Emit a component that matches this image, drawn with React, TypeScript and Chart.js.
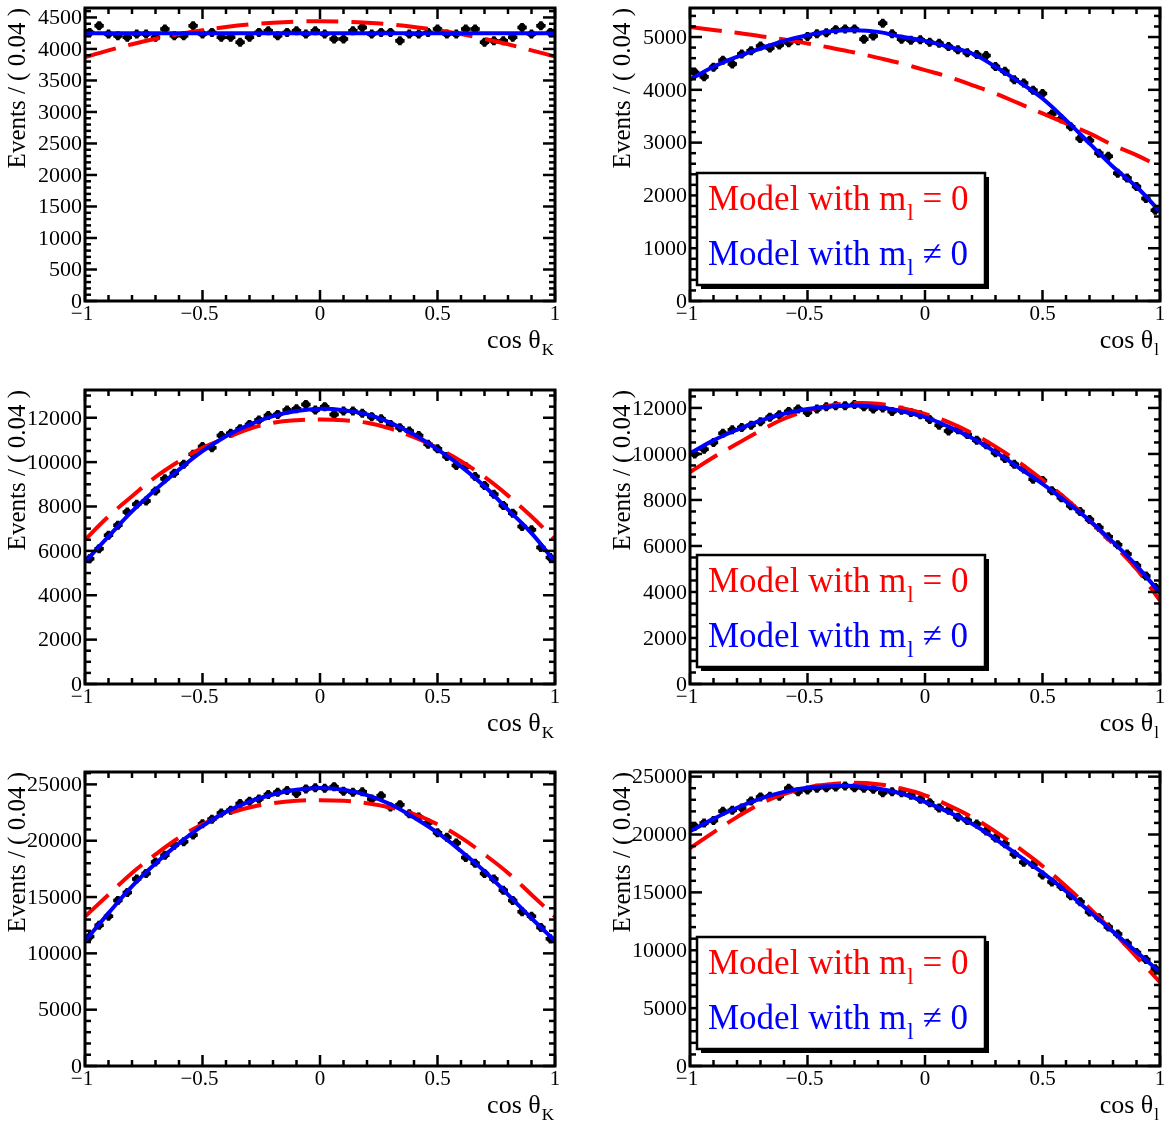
import React, { useEffect, useRef } from "react";
import { Chart, registerables } from "chart.js";

Chart.register(...registerables);

const SERIF = "'Liberation Serif', 'Times New Roman', Times, serif";

// ---------- shared axes ----------
const BIN_CENTERS = [
  -0.98, -0.94, -0.9, -0.86, -0.82, -0.78, -0.74, -0.7, -0.66, -0.62,
  -0.58, -0.54, -0.5, -0.46, -0.42, -0.38, -0.34, -0.3, -0.26, -0.22,
  -0.18, -0.14, -0.1, -0.06, -0.02, 0.02, 0.06, 0.1, 0.14, 0.18,
  0.22, 0.26, 0.3, 0.34, 0.38, 0.42, 0.46, 0.5, 0.54, 0.58,
  0.62, 0.66, 0.7, 0.74, 0.78, 0.82, 0.86, 0.9, 0.94, 0.98,
];
const HALF_BIN = 0.02;
const CURVE_X = [
  -1, -0.9, -0.8, -0.7, -0.6, -0.5, -0.4, -0.3, -0.2, -0.1, 0,
  0.1, 0.2, 0.3, 0.4, 0.5, 0.6, 0.7, 0.8, 0.9, 1,
];
const X_TICKS = [-1, -0.5, 0, 0.5, 1];
const X_TICK_LABELS = ["\u22121", "\u22120.5", "0", "0.5", "1"];

// ---------- panel 1 : cos thetaK (top) ----------
const P1_POINTS = [
  4260, 4370, 4237, 4210, 4184, 4237, 4237, 4184, 4316, 4210,
  4210, 4368, 4237, 4263, 4184, 4184, 4105, 4184, 4263, 4290,
  4210, 4263, 4290, 4237, 4290, 4237, 4158, 4158, 4290, 4342,
  4237, 4263, 4263, 4130, 4237, 4237, 4263, 4316, 4237, 4237,
  4316, 4316, 4105, 4130, 4130, 4184, 4342, 4237, 4368, 4263,
];
const P1_RED = [3870, 3978, 4075, 4161, 4235, 4298, 4349, 4389, 4417, 4434, 4440, 4434, 4417, 4389, 4349, 4298, 4235, 4161, 4075, 3978, 3880];
const P1_BLUE = [4250, 4250, 4250, 4250, 4250, 4250, 4250, 4250, 4250, 4250, 4250, 4250, 4250, 4250, 4250, 4250, 4250, 4250, 4250, 4250, 4250];
const P1_YTICKS = [0, 500, 1000, 1500, 2000, 2500, 3000, 3500, 4000, 4500];

// ---------- panel 2 : cos thetal (top) ----------
const P2_POINTS = [
  4330, 4250, 4430, 4560, 4490, 4680, 4740, 4830, 4790, 4850,
  4890, 4930, 5010, 5060, 5080, 5140, 5150, 5150, 4960, 5020,
  5260, 5060, 4960, 4940, 4950, 4900, 4880, 4820, 4760, 4700,
  4670, 4650, 4440, 4350, 4190, 4130, 3990, 3930, 3540, 3450,
  3300, 3080, 3040, 2800, 2740, 2420, 2330, 2170, 1940, 1720,
];
const P2_RED = [5190, 5135, 5080, 5016, 4953, 4878, 4796, 4707, 4606, 4499, 4373, 4247, 4089, 3931, 3742, 3553, 3363, 3174, 2953, 2764, 2543];
const P2_BLUE = [4196, 4436, 4625, 4783, 4928, 5035, 5111, 5130, 5098, 5004, 4928, 4815, 4688, 4436, 4152, 3836, 3426, 2985, 2543, 2164, 1691];
const P2_YTICKS = [0, 1000, 2000, 3000, 4000, 5000];

// ---------- panel 3 : cos thetaK (middle) ----------
const P3_POINTS = [
  5650, 6100, 6700, 7150, 7750, 8100, 8250, 8700, 9250, 9500,
  9900, 10350, 10700, 10650, 11200, 11300, 11500, 11700, 11900, 12100,
  12150, 12350, 12400, 12600, 12350, 12500, 12150, 12300, 12300, 12200,
  12050, 11950, 11700, 11550, 11400, 11200, 10800, 10600, 10250, 9850,
  9800, 9350, 8950, 8550, 8050, 7700, 7100, 6950, 6150, 5700,
];
const P3_RED = [6500, 7550, 8460, 9330, 10040, 10640, 11090, 11500, 11770, 11890, 11920, 11890, 11770, 11510, 11120, 10640, 10040, 9330, 8490, 7550, 6500];
const P3_BLUE = [5500, 6650, 7780, 8760, 9660, 10490, 11170, 11690, 12070, 12300, 12400, 12340, 12150, 11770, 11240, 10570, 9810, 8910, 7860, 6800, 5500];
const P3_YTICKS = [0, 2000, 4000, 6000, 8000, 10000, 12000];

// ---------- panel 4 : cos thetal (middle) ----------
const P4_POINTS = [
  10000, 10200, 10500, 10900, 11050, 11150, 11250, 11400, 11600, 11700,
  11850, 11950, 11800, 11950, 12050, 12100, 12100, 12150, 12050, 11950,
  12000, 11850, 11900, 11800, 11700, 11500, 11250, 11000, 11050, 10850,
  10600, 10400, 10050, 9800, 9550, 9350, 8900, 8850, 8400, 8100,
  7750, 7500, 7150, 6800, 6400, 6050, 5650, 5150, 4700, 4200,
];
const P4_RED = [9210, 9860, 10440, 11020, 11530, 11890, 12110, 12210, 12180, 12000, 11740, 11380, 10900, 10320, 9640, 8870, 8050, 7110, 6090, 5000, 3630];
const P4_BLUE = [10030, 10590, 11050, 11450, 11745, 11950, 12065, 12110, 12040, 11860, 11600, 11190, 10690, 10080, 9400, 8700, 7930, 7110, 6170, 5150, 3950];
const P4_YTICKS = [0, 2000, 4000, 6000, 8000, 10000, 12000];

// ---------- panel 5 : cos thetaK (bottom) ----------
const P5_POINTS = [
  11500, 12500, 13300, 14700, 15400, 16600, 17100, 18100, 18700, 19600,
  19900, 20500, 21500, 21900, 22450, 22700, 23300, 23500, 23700, 24100,
  24300, 24450, 24200, 24600, 24700, 24650, 24800, 24400, 24300, 24350,
  23700, 24000, 23000, 23200, 22400, 22100, 21600, 20700, 20300, 19800,
  18500, 18000, 17100, 16600, 15600, 14700, 13700, 13300, 12300, 11300,
];
const P5_RED = [13270, 15210, 17140, 18780, 20270, 21460, 22350, 22950, 23330, 23540, 23600, 23540, 23330, 22950, 22350, 21460, 20270, 18780, 17140, 15210, 13270];
const P5_BLUE = [11100, 13570, 15950, 17970, 19760, 21310, 22560, 23480, 24100, 24520, 24670, 24520, 24050, 23240, 22050, 20710, 19080, 17290, 15210, 13120, 11100];
const P5_YTICKS = [0, 5000, 10000, 15000, 20000, 25000];

// ---------- panel 6 : cos thetal (bottom) ----------
const P6_POINTS = [
  20700, 21000, 21200, 22000, 22100, 22300, 22900, 23250, 23300, 23300,
  24000, 23700, 23850, 24000, 24050, 24100, 24200, 24050, 24000, 23900,
  23600, 23700, 23600, 23400, 23050, 22750, 22300, 22100, 21500, 21200,
  20900, 20300, 19700, 19200, 18300, 17600, 17400, 16500, 15900, 15500,
  14700, 14200, 13300, 12800, 12000, 11400, 10600, 9800, 9200, 8400,
];
const P6_RED = [18820, 20190, 21500, 22660, 23480, 24060, 24350, 24470, 24350, 23970, 23390, 22520, 21500, 20250, 18820, 17280, 15530, 13640, 11610, 9430, 7240];
const P6_BLUE = [20280, 21350, 22310, 23100, 23680, 24030, 24170, 24200, 23970, 23530, 22810, 21930, 20920, 19610, 18150, 16700, 15100, 13350, 11610, 9860, 8120];
const P6_YTICKS = [0, 5000, 10000, 15000, 20000, 25000];

const Y_TITLE = "Events / ( 0.04 )";
const LEGEND_RED = ["Model with m", "l", " = 0"];
const LEGEND_BLUE = ["Model with m", "l", " \u2260 0"];

type Pad = { left: number; right: number; top: number; bottom: number };
type PanelCfg = {
  points: number[];
  red: number[];
  blue: number[];
  yMax: number;
  yTicks: number[];
  yMinor: number;
  sub: string;
  legend: boolean;
  left: number;
  top: number;
  width: number;
  height: number;
  pad: Pad;
};

const COL_L = { left: 0, width: 583, padL: 85, padR: 28 };
const COL_R = { left: 583, width: 584, padL: 107, padR: 7 };
const ROWS = [
  { top: 0, height: 375, padT: 8, padB: 74 },
  { top: 375, height: 375, padT: 15, padB: 66 },
  { top: 750, height: 375, padT: 22, padB: 59 },
];

function mk(
  col: typeof COL_L,
  row: (typeof ROWS)[number],
  points: number[],
  red: number[],
  blue: number[],
  yMax: number,
  yTicks: number[],
  yMinor: number,
  sub: string,
  legend: boolean
): PanelCfg {
  return {
    points, red, blue, yMax, yTicks, yMinor, sub, legend,
    left: col.left, top: row.top, width: col.width, height: row.height,
    pad: { left: col.padL, right: col.padR, top: row.padT, bottom: row.padB },
  };
}

const PANELS: PanelCfg[] = [
  mk(COL_L, ROWS[0], P1_POINTS, P1_RED, P1_BLUE, 4650, P1_YTICKS, 100, "K", false),
  mk(COL_R, ROWS[0], P2_POINTS, P2_RED, P2_BLUE, 5550, P2_YTICKS, 200, "l", true),
  mk(COL_L, ROWS[1], P3_POINTS, P3_RED, P3_BLUE, 13250, P3_YTICKS, 500, "K", false),
  mk(COL_R, ROWS[1], P4_POINTS, P4_RED, P4_BLUE, 12780, P4_YTICKS, 500, "l", true),
  mk(COL_L, ROWS[2], P5_POINTS, P5_RED, P5_BLUE, 26100, P5_YTICKS, 1000, "K", false),
  mk(COL_R, ROWS[2], P6_POINTS, P6_RED, P6_BLUE, 25400, P6_YTICKS, 1000, "l", true),
];

function makeRootPlugin(cfg: PanelCfg) {
  return {
    id: "rootStyle",
    beforeDatasetsDraw(chart: any) {
      const ctx: CanvasRenderingContext2D = chart.ctx;
      const xs = chart.scales.x;
      const ys = chart.scales.y;
      const ca = chart.chartArea;
      ctx.save();
      ctx.beginPath();
      ctx.rect(ca.left, ca.top, ca.right - ca.left, ca.bottom - ca.top);
      ctx.clip();
      ctx.strokeStyle = "#000";
      ctx.lineWidth = 3.5;
      cfg.points.forEach((v, i) => {
        const x = BIN_CENTERS[i];
        const e = Math.sqrt(v);
        const px = xs.getPixelForValue(x);
        const py = ys.getPixelForValue(v);
        const pyLo = Math.max(ys.getPixelForValue(v - e), py + 4.5);
        const pyHi = Math.min(ys.getPixelForValue(v + e), py - 4.5);
        ctx.beginPath();
        ctx.moveTo(xs.getPixelForValue(x - HALF_BIN), py);
        ctx.lineTo(xs.getPixelForValue(x + HALF_BIN), py);
        ctx.moveTo(px, pyLo);
        ctx.lineTo(px, pyHi);
        ctx.stroke();
      });
      ctx.restore();
    },
    afterDraw(chart: any) {
      const ctx: CanvasRenderingContext2D = chart.ctx;
      const xs = chart.scales.x;
      const ys = chart.scales.y;
      const ca = chart.chartArea;
      const line = (x1: number, y1: number, x2: number, y2: number) => {
        ctx.beginPath();
        ctx.moveTo(x1, y1);
        ctx.lineTo(x2, y2);
        ctx.stroke();
      };
      ctx.save();
      ctx.strokeStyle = "#000";
      ctx.fillStyle = "#000";

      // ticks
      ctx.lineWidth = 2.5;
      for (let k = 0; k <= 20; k++) {
        const v = -1 + k * 0.1;
        const px = xs.getPixelForValue(v);
        const len = k % 5 === 0 ? 11 : 6;
        line(px, ca.bottom, px, ca.bottom - len);
        line(px, ca.top, px, ca.top + len);
      }
      const yMajor = cfg.yTicks[1] - cfg.yTicks[0];
      const nMinor = Math.floor(cfg.yMax / cfg.yMinor + 1e-9);
      for (let k = 0; k <= nMinor; k++) {
        const v = k * cfg.yMinor;
        const py = ys.getPixelForValue(v);
        const r = v / yMajor;
        const major = Math.abs(r - Math.round(r)) < 1e-6;
        const len = major ? 12 : 6;
        line(ca.left, py, ca.left + len, py);
        line(ca.right, py, ca.right - len, py);
      }

      // frame
      ctx.lineWidth = 3;
      ctx.strokeRect(ca.left, ca.top, ca.right - ca.left, ca.bottom - ca.top);

      // y tick labels
      ctx.font = `22px ${SERIF}`;
      ctx.textAlign = "right";
      ctx.textBaseline = "middle";
      cfg.yTicks.forEach((v) => {
        ctx.fillText(String(v), ca.left - 3, ys.getPixelForValue(v) + 1);
      });

      // x tick labels
      ctx.font = `21px ${SERIF}`;
      ctx.textAlign = "center";
      ctx.textBaseline = "top";
      X_TICKS.forEach((v, i) => {
        const lbl = X_TICK_LABELS[i];
        let px = xs.getPixelForValue(v);
        if (lbl.startsWith("\u2212")) px -= 3;
        ctx.fillText(lbl, px, ca.bottom + 3);
      });

      // y title
      ctx.save();
      ctx.font = `25px ${SERIF}`;
      ctx.translate(ca.left - 67, ca.top);
      ctx.rotate(-Math.PI / 2);
      ctx.textAlign = "right";
      ctx.textBaseline = "middle";
      ctx.fillText(Y_TITLE, 0, 0);
      ctx.restore();

      // x title
      ctx.textBaseline = "alphabetic";
      ctx.textAlign = "left";
      ctx.font = `17px ${SERIF}`;
      const subW = ctx.measureText(cfg.sub).width;
      ctx.font = `26px ${SERIF}`;
      const mainW = ctx.measureText("cos \u03b8").width;
      const xEnd = ca.right - 1;
      ctx.fillText("cos \u03b8", xEnd - subW - mainW - 1, ca.bottom + 47);
      ctx.font = `17px ${SERIF}`;
      ctx.fillText(cfg.sub, xEnd - subW, ca.bottom + 54);

      // legend
      if (cfg.legend) {
        const bx = ca.left + 7;
        const by = ca.top + 165;
        const bw = 288;
        const bh = 112;
        ctx.fillStyle = "#000";
        ctx.fillRect(bx + 4, by + 4, bw, bh);
        ctx.fillStyle = "#fff";
        ctx.fillRect(bx, by, bw, bh);
        ctx.lineWidth = 2.5;
        ctx.strokeStyle = "#000";
        ctx.strokeRect(bx, by, bw, bh);
        const drawEntry = (parts: string[], color: string, baseline: number) => {
          ctx.fillStyle = color;
          let x = bx + 11;
          ctx.font = `35px ${SERIF}`;
          ctx.fillText(parts[0], x, baseline);
          x += ctx.measureText(parts[0]).width;
          ctx.font = `23px ${SERIF}`;
          ctx.fillText(parts[1], x + 1, baseline + 10);
          x += ctx.measureText(parts[1]).width + 1;
          ctx.font = `35px ${SERIF}`;
          ctx.fillText(parts[2], x, baseline);
        };
        drawEntry(LEGEND_RED, "#ff0000", ca.top + 202);
        drawEntry(LEGEND_BLUE, "#0000ff", ca.top + 257);
      }
      ctx.restore();
    },
  };
}

function Panel({ cfg }: { cfg: PanelCfg }) {
  const ref = useRef<HTMLCanvasElement>(null);
  useEffect(() => {
    const canvas = ref.current;
    if (!canvas) return;
    const chart = new Chart(canvas, {
      type: "scatter",
      data: {
        datasets: [
          {
            label: "blue",
            data: CURVE_X.map((x, i) => ({ x, y: cfg.blue[i] })),
            showLine: true,
            borderColor: "#0000ff",
            backgroundColor: "#0000ff",
            borderWidth: 4,
            pointRadius: 0,
            tension: 0.4,
            fill: false,
          },
          {
            label: "red",
            data: CURVE_X.map((x, i) => ({ x, y: cfg.red[i] })),
            showLine: true,
            borderColor: "#ff0000",
            backgroundColor: "#ff0000",
            borderWidth: 4,
            borderDash: [32, 13],
            pointRadius: 0,
            tension: 0.4,
            fill: false,
          },
          {
            label: "data",
            data: BIN_CENTERS.map((x, i) => ({ x, y: cfg.points[i] })),
            showLine: false,
            pointRadius: 3.8,
            pointBackgroundColor: "#000",
            pointBorderColor: "#000",
            pointBorderWidth: 0,
          },
        ],
      },
      options: {
        responsive: false,
        animation: false,
        events: [],
        layout: { padding: cfg.pad },
        scales: {
          x: { type: "linear", min: -1, max: 1, display: false },
          y: { type: "linear", min: 0, max: cfg.yMax, display: false },
        },
        plugins: { legend: { display: false }, tooltip: { enabled: false } },
      },
      plugins: [makeRootPlugin(cfg) as any],
    } as any);
    return () => chart.destroy();
  }, [cfg]);
  return (
    <canvas
      ref={ref}
      width={cfg.width}
      height={cfg.height}
      style={{
        position: "absolute",
        left: cfg.left,
        top: cfg.top,
        width: cfg.width,
        height: cfg.height,
      }}
    />
  );
}

export default function App() {
  return (
    <div
      style={{
        position: "absolute",
        left: 0,
        top: 0,
        width: 1167,
        height: 1125,
        background: "#fff",
        overflow: "hidden",
      }}
    >
      {PANELS.map((p, i) => (
        <Panel key={i} cfg={p} />
      ))}
    </div>
  );
}
